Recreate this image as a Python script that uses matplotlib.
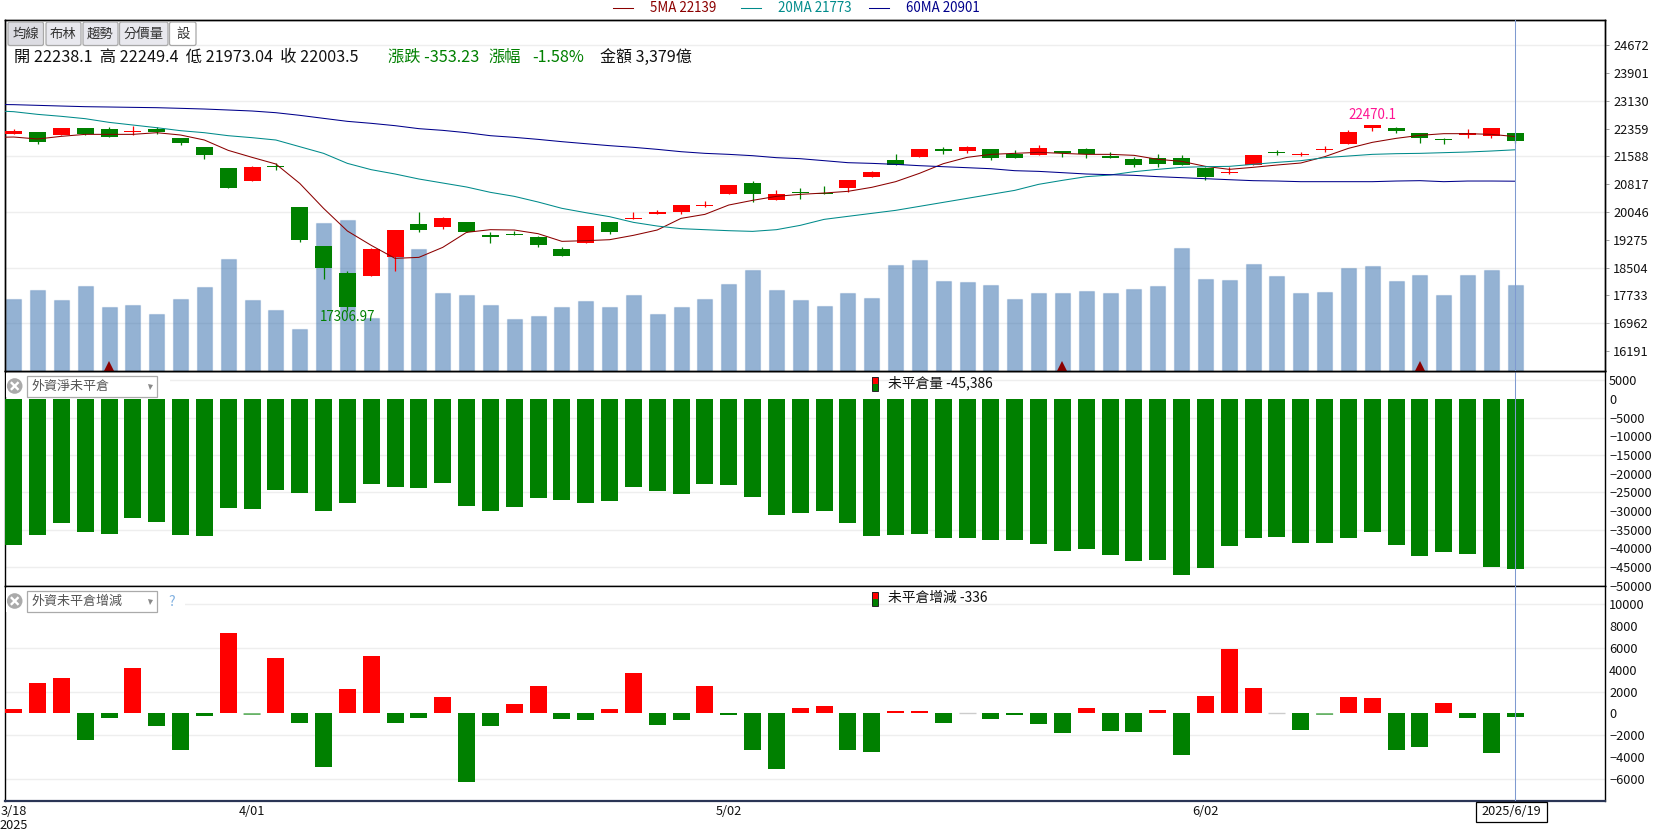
#!/usr/bin/env python3
# Taiex daily candles with volume, foreign net open interest and its daily change

import matplotlib
matplotlib.use("Agg")
import matplotlib.pyplot as plt
import matplotlib.transforms as mtransforms
from matplotlib.patches import Rectangle, FancyBboxPatch, Circle
import numpy as np

plt.rcParams["font.family"] = ["Noto Sans CJK TC", "DejaVu Sans"]

opens = [22220, 22266, 22192, 22377, 22349, 22266, 22349, 22099, 21850, 21267, 20906, 21332, 20185, 19102, 18353, 18270,
         18797, 19713, 19630, 19769, 19408, 19436, 19352, 19019, 19186, 19769, 19861, 20000, 20046, 20222, 20545, 20851,
         20379, 20601, 20573, 20712, 21017, 21489, 21572, 21794, 21739, 21794, 21656, 21628, 21739, 21794, 21600, 21517,
         21545, 21545, 21276, 21128, 21350, 21711, 21628, 21767, 21933, 22377, 22377, 22238, 22072, 22183, 22155, 22238.1]
highs = [22340, 22270, 22385, 22385, 22405, 22432, 22405, 22110, 21855, 21275, 21323, 21396, 20195, 19110, 18409, 19056,
         19555, 20046, 19917, 19780, 19491, 19519, 19380, 19075, 19665, 19780, 20046, 20102, 20248, 20351, 20803, 20906,
         20657, 20712, 20767, 20942, 21184, 21656, 21800, 21850, 21878, 21800, 21767, 21905, 21745, 21822, 21711, 21572,
         21656, 21628, 21283, 21295, 21636, 21767, 21711, 21878, 22321, 22470.1, 22405, 22245, 22099, 22349, 22385, 22249.4]
lows = [22215, 21942, 22185, 22195, 22130, 22192, 22210, 21905, 21517, 20705, 20900, 21212, 19214, 18196, 17306.97, 18260,
        18409, 19491, 19574, 19485, 19186, 19400, 19075, 18815, 19180, 19436, 19855, 19995, 19991, 20185, 20538, 20323,
        20372, 20407, 20538, 20601, 21010, 21343, 21565, 21656, 21683, 21489, 21538, 21620, 21572, 21545, 21538, 21295,
        21295, 21343, 20934, 21100, 21343, 21628, 21600, 21711, 21925, 22294, 22238, 21961, 21933, 22099, 22099, 21973.04]
closes = [22294, 21998, 22377, 22201, 22137, 22294, 22266, 21961, 21628, 20712, 21295, 21304, 19269, 18492, 17410, 19019,
          19546, 19546, 19880, 19491, 19361, 19408, 19130, 18825, 19657, 19491, 19880, 20046, 20240, 20240, 20795, 20545,
          20545, 20573, 20545, 20934, 21156, 21350, 21794, 21739, 21850, 21545, 21545, 21822, 21683, 21656, 21545, 21350,
          21378, 21350, 21017, 21156, 21628, 21683, 21656, 21794, 22266, 22460, 22294, 22099, 22044, 22229, 22377, 22003.5]

# the moving averages start one session earlier so they reach the left frame
ma5 = [22115, 22127, 22072, 22146, 22201, 22201, 22201, 22247, 22183, 22044, 21757, 21563, 21378, 20841, 20148, 19519,
       19121, 18760, 18788, 19065, 19482, 19556, 19547, 19445, 19232, 19251, 19278, 19399, 19547, 19870, 19981, 20240,
       20370, 20481, 20536, 20573, 20620, 20731, 20888, 21119, 21387, 21563, 21646, 21674, 21702, 21674, 21646, 21646,
       21619, 21508, 21452, 21313, 21230, 21286, 21350, 21406, 21581, 21813, 21979, 22090, 22174, 22220, 22220, 22201, 22139]
ma20 = [22860, 22830, 22756, 22701, 22636, 22534, 22460, 22386, 22303, 22247, 22164, 22109, 22044, 21859, 21674, 21396,
        21221, 21101, 20962, 20851, 20740, 20592, 20481, 20324, 20148, 20028, 19917, 19759, 19657, 19584, 19556, 19528,
        19509, 19556, 19676, 19842, 19926, 20009, 20092, 20203, 20314, 20425, 20536, 20647, 20814, 20925, 21027, 21073,
        21165, 21230, 21286, 21304, 21313, 21369, 21424, 21471, 21554, 21600, 21646, 21665, 21674, 21693, 21711, 21739, 21773]
ma60 = [23032, 23025, 23006, 22987, 22969, 22960, 22950, 22941, 22923, 22904, 22877, 22849, 22802, 22729, 22645, 22562,
        22507, 22442, 22359, 22312, 22247, 22164, 22118, 22062, 21998, 21942, 21887, 21841, 21785, 21720, 21674, 21646,
        21609, 21554, 21526, 21471, 21415, 21396, 21369, 21332, 21304, 21276, 21248, 21193, 21174, 21138, 21101, 21082,
        21064, 21027, 20999, 20971, 20943, 20916, 20906, 20888, 20888, 20888, 20888, 20906, 20916, 20888, 20906, 20906, 20901]

# turnover, hundred million TWD
volume = [2837, 3193, 2798, 3352, 2521, 2600, 2244, 2837, 3312, 4420, 2798, 2402, 1650, 5829, 5963, 2085,
          4946, 4816, 3059, 2995, 2600, 2046, 2165, 2521, 2758, 2521, 2995, 2244, 2521, 2837, 3431, 3985,
          3193, 2798, 2560, 3075, 2877, 4183, 4380, 3549, 3510, 3391, 2837, 3075, 3075, 3154, 3059, 3217,
          3336, 4855, 3617, 3577, 4210, 3735, 3059, 3098, 4052, 4131, 3538, 3775, 2980, 3775, 3973, 3379]

# foreign net futures open interest
net_oi = [-39059, -36381, -33166, -35577, -36113, -31826, -32898, -36381, -36649, -29148, -29415, -24325, -25129, -29951,
          -27808, -22718, -23522, -23790, -22450, -28612, -29951, -28880, -26469, -27004, -27808, -27272, -23522, -24593,
          -25397, -22718, -22986, -26201, -31023, -30487, -29951, -33166, -36649, -36381, -36113, -37184, -37184, -37720,
          -37720, -38792, -40667, -40131, -41739, -43346, -43078, -47096, -45221, -39328, -37184, -36917, -38524, -38524,
          -37184, -35577, -39059, -42006, -40935, -41471, -45050, -45386]
oi_change = [366, 2742, 3199, -2468, -457, 4113, -1188, -3382, -274, 7313, -100, 5028, -914, -4936, 2194, 5210,
             -914, -366, 1463, -6307, -1188, 823, 2468, -548, -640, 366, 3656, -1097, -640, 2559, -183, -3291,
             -5028, 457, 640, -3291, -3474, 183, 183, -914, 0, -548, -183, -1005, -1828, 548, -1645, -1737,
             274, -3839, 1554, 5850, 2285, 0, -1463, -100, 1463, 1371, -3291, -3017, 914, -366, -3656, -336]

price_ticks = [24672, 23901, 23130, 22359, 21588, 20817, 20046, 19275, 18504, 17733, 16962, 16191]
oi_ticks = [5000, 0, -5000, -10000, -15000, -20000, -25000, -30000, -35000, -40000, -45000, -50000]
change_ticks = [10000, 8000, 6000, 4000, 2000, 0, -2000, -4000, -6000]
date_ticks = [0, 10, 30, 50]
date_labels = ["3/18\n2025", "4/01", "5/02", "6/02"]
signal_days = [4, 44, 59]

RED = "#ff0000"
GREEN = "#008000"
GRID = "#eeeeee"
W, H = 1653, 831
LEFT, RIGHT = 4.7, 1605.3
BAR_W = 17 / 23.835
x = np.arange(len(opens))
ma_x = np.arange(-1, len(opens))

fig = plt.figure(figsize=(W / 100, H / 100), dpi=100, facecolor="white")


def panel(top, bottom):
    return fig.add_axes([LEFT / W, 1 - bottom / H, (RIGHT - LEFT) / W, (bottom - top) / H])


ax_vol = panel(19.5, 370.7)
ax_price = ax_vol.twinx()
ax_oi = panel(370.7, 586)
ax_chg = panel(586, 800.7)

for ax in (ax_vol, ax_price, ax_oi, ax_chg):
    ax.set_xlim(-0.3776, 66.776)
    for s in ax.spines.values():
        s.set_linewidth(1.0)
        s.set_color("black")

# top panel: volume sits under the candles, on its own scale
ax_vol.set_ylim(0, 13897)
ax_price.set_ylim(15643, 25388)
ax_vol.set_zorder(1)
ax_price.set_zorder(2)
ax_price.patch.set_visible(False)
ax_vol.set_xticks([])
ax_vol.set_yticks([])

grid_trans = mtransforms.blended_transform_factory(ax_vol.transAxes, ax_price.transData)
for p in price_ticks[::2]:
    ax_vol.plot([0, 1], [p, p], color=GRID, lw=1.0, transform=grid_trans, zorder=0)

ax_vol.bar(x, volume, width=15 / 23.835, color=(60 / 255, 115 / 255, 175 / 255, 0.55),
           edgecolor=(60 / 255, 115 / 255, 175 / 255, 0.22), linewidth=0.9, zorder=2)
ax_vol.plot(signal_days, [190] * len(signal_days), "^", color="#8b0000", ms=7.4, mew=0, zorder=3)

candle_colors = [RED if c >= o else GREEN for o, c in zip(opens, closes)]
ax_price.vlines(x, lows, highs, color=candle_colors, lw=0.9, zorder=2)
ax_price.bar(x, np.array(closes) - np.array(opens), bottom=opens, width=BAR_W, color=candle_colors, zorder=3)

ax_price.plot(ma_x, ma5, color="#8b0000", lw=0.75, zorder=4)
ax_price.plot(ma_x, ma20, color="#008b8b", lw=0.75, zorder=4)
ax_price.plot(ma_x, ma60, color="#00008b", lw=0.75, zorder=4)

ax_price.set_yticks(price_ticks)
ax_price.yaxis.tick_right()
ax_price.tick_params(axis="y", length=3, width=0.7, color="#999999", pad=2.7, labelsize=9.2, labelcolor="#111111")
ax_price.set_xticks([])

hi_i = int(np.argmax(highs))
lo_i = int(np.argmin(lows))
ax_price.annotate(str(highs[hi_i]), (hi_i, highs[hi_i]), xytext=(0, 7), textcoords="offset points",
                  ha="center", va="center", color="#ff1493", fontsize=9.6, zorder=6)
ax_price.annotate(str(lows[lo_i]), (lo_i, lows[lo_i]), xytext=(0, -4.5), textcoords="offset points",
                  ha="center", va="center", color=GREEN, fontsize=9.6, zorder=6)

# net open interest
ax_oi.set_ylim(-50040, 7554)
ax_oi.bar(x, net_oi, width=BAR_W, color=GREEN, zorder=3)
ax_oi.set_yticks(oi_ticks)
ax_oi.set_xticks([])
ax_oi.yaxis.tick_right()
ax_oi.tick_params(axis="y", length=0, pad=2.7, labelsize=9.2, labelcolor="#111111")
for v in oi_ticks[::2]:
    ax_oi.axhline(v, color=GRID, lw=1.0, zorder=1)

# daily change of open interest
ax_chg.set_ylim(-7971, 11654)
chg_colors = [RED if v > 0 else GREEN for v in oi_change]
chg_bars = ax_chg.bar(x, oi_change, width=BAR_W, color=chg_colors, zorder=3)
for bar, v in zip(chg_bars, oi_change):
    # very small changes stay faint instead of snapping to a full pixel row
    if abs(v) < 150:
        bar.set_snap(False)
flat = [i for i, v in enumerate(oi_change) if v == 0]
ax_chg.hlines([0] * len(flat), x[flat] - BAR_W / 2, x[flat] + BAR_W / 2, color="#cccccc", lw=1.0, zorder=3)
ax_chg.set_yticks(change_ticks)
ax_chg.yaxis.tick_right()
ax_chg.tick_params(axis="y", length=0, pad=2.7, labelsize=9.2, labelcolor="#111111")
ax_chg.set_xticks(date_ticks)
ax_chg.set_xticklabels(date_labels, fontsize=9.2, color="#111111", linespacing=1.1)
ax_chg.tick_params(axis="x", length=0, pad=3)
for v in change_ticks[::2]:
    ax_chg.axhline(v, color=GRID, lw=1.0, zorder=1)
ax_chg.spines["bottom"].set_color("#2a3555")
ax_chg.spines["bottom"].set_linewidth(1.6)

# cursor on the last session
for ax in (ax_price, ax_oi, ax_chg):
    ax.axvline(x[-1], color="#7f9ad0", lw=0.75, zorder=8)

# toolbar, legend and captions, laid out in figure pixels
ui = fig.add_axes([0, 0, 1, 1])
ui.set_xlim(0, W)
ui.set_ylim(H, 0)
ui.axis("off")
ui.set_zorder(10)

for x0, x1, label, col in [(8, 43.5, "均線", "#dcdce2"), (46, 81, "布林", "#e8e8ee"), (83, 118, "趨勢", "#e8e8ee"),
                           (119.5, 168, "分價量", "#e8e8ee"), (169.5, 196, "設", "white")]:
    ui.add_patch(FancyBboxPatch((x0 + 1.5, 23.5), x1 - x0 - 3, 20.5, boxstyle="round,pad=1.5,rounding_size=2",
                                fc=col, ec="#a8a8a8", lw=0.9))
    ui.text((x0 + x1) / 2, 34.2, label, ha="center", va="center", fontsize=9.6, color="#333333")

ohlc = f"開 {opens[-1]}  高 {highs[-1]}  低 {lows[-1]}  收 {closes[-1]}"
ui.text(14, 57, ohlc, ha="left", va="center", fontsize=11.7, color="#111111")
ui.text(388, 57, "漲跌 -353.23", ha="left", va="center", fontsize=11.7, color=GREEN)
ui.text(488, 57, "漲幅", ha="left", va="center", fontsize=11.7, color=GREEN)
ui.text(532, 57, "-1.58%", ha="left", va="center", fontsize=11.7, color=GREEN)
ui.text(600, 57, f"金額 {volume[-1]:,}億", ha="left", va="center", fontsize=11.5, color="#111111")

for x0, label, val, col in [(613, "5MA", ma5[-1], "#8b0000"), (741, "20MA", ma20[-1], "#008b8b"),
                            (869, "60MA", ma60[-1], "#00008b")]:
    ui.plot([x0, x0 + 20], [8, 8], color=col, lw=0.75)
    ui.text(x0 + 37, 8.2, f"{label} {val}", ha="left", va="center", fontsize=9.6, color=col)

for y0, label, blank_to in [(376, "外資淨未平倉", 170), (591, "外資未平倉增減", 185)]:
    ui.add_patch(Rectangle((6, y0 - 3), blank_to - 6, 24, fc="white", ec="none"))
    ui.add_patch(Rectangle((26.5, y0), 130.5, 21, fc="white", ec="#aaaaaa", lw=0.9))
    ui.text(31, y0 + 10.5, label, ha="left", va="center", fontsize=9.4, color="#555555")
    ui.plot([150], [y0 + 11], "v", color="#888888", ms=3.6, mew=0)
    ui.add_patch(Circle((14.7, y0 + 10), 7.8, fc="#aaaaaa", ec="none"))
    ui.plot([11.7, 17.7], [y0 + 7, y0 + 13], color="white", lw=1.7)
    ui.plot([11.7, 17.7], [y0 + 13, y0 + 7], color="white", lw=1.7)
ui.text(172, 602, "?", ha="center", va="center", fontsize=10, color="#80b0e0")

for y0, caption in [(377, f"未平倉量 {net_oi[-1]:,}"), (592, f"未平倉增減 {oi_change[-1]}")]:
    ui.add_patch(Rectangle((871.5, y0), 6, 7, fc=RED, ec="none"))
    ui.add_patch(Rectangle((871.5, y0 + 7), 6, 7, fc=GREEN, ec="none"))
    ui.add_patch(Rectangle((871.5, y0), 6, 14, fc="none", ec="#222222", lw=0.7))
    ui.text(888.5, y0 + 6.3, caption, ha="left", va="center", fontsize=9.9, color="#111111")

ui.add_patch(Rectangle((1475.5, 801.5), 71.5, 20.5, fc="white", ec="black", lw=0.9))
ui.text(1511.3, 811.6, "2025/6/19", ha="center", va="center", fontsize=9.2, color="#111111")

fig.savefig("out.png", dpi=100, facecolor="white")
